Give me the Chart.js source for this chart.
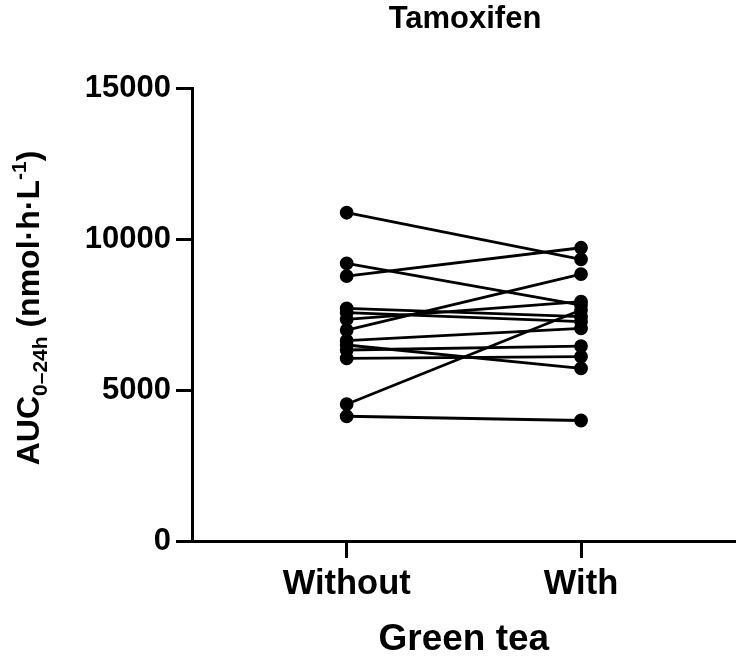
<!DOCTYPE html>
<html>
<head>
<meta charset="utf-8">
<script src="https://cdn.jsdelivr.net/npm/chart.js@4.4.1/dist/chart.umd.min.js"></script>
<style>
  html, body { margin: 0; padding: 0; background: #fff; }
  #wrap { width: 744px; height: 656px; }
</style>
</head>
<body>
<div id="wrap"><canvas id="grafik"></canvas></div>
<script>
// podaci ocitani sa slike (AUC 0-24h, nmol*h/L)
var grupe = ['Without', 'With'];
var bez_caja = [10870, 9195, 8774, 7705, 7560, 7340, 6986, 6633, 6490, 6324, 6050, 4530, 4130];
var sa_cajem = [9327, 7814, 9710, 7427, 7261, 7923, 8840, 7042, 5718, 6456, 6102, 7648, 3990];
var y_podela = [0, 5000, 10000, 15000];

var naslov = 'Tamoxifen';
var x_naslov = 'Green tea';

var FONT = '"Liberation Sans", Arial, Helvetica, sans-serif';

var skupovi = [];
for (var i = 0; i < bez_caja.length; i++) {
  skupovi.push({
    data: [{x: 0, y: bez_caja[i]}, {x: 1, y: sa_cajem[i]}],
    showLine: true,
    borderColor: '#000',
    backgroundColor: '#000',
    borderWidth: 2.8,
    pointRadius: 5.5,
    pointHoverRadius: 5.5
  });
}

// naslov gore i y naslov sa indeksima
var tekstovi = {
  id: 'tekstovi',
  afterDraw: function(chart) {
    var ctx = chart.ctx;
    ctx.save();
    ctx.fillStyle = '#000';
    ctx.textAlign = 'center';
    ctx.textBaseline = 'middle';
    ctx.font = 'bold 31px ' + FONT;
    ctx.fillText(naslov, 465, 19);

    // y naslov, rotiran
    var delovi = [
      {t: 'AUC', s: 32, dy: 0},
      {t: '0\u201324h', s: 21, dy: 8},
      {t: ' (nmol\u00b7h\u00b7L', s: 32, dy: 0},
      {t: '-1', s: 21, dy: -13},
      {t: ')', s: 32, dy: 0}
    ];
    var ukupno = 0;
    delovi.forEach(function(d) {
      ctx.font = 'bold ' + d.s + 'px ' + FONT;
      d.w = ctx.measureText(d.t).width;
      ukupno += d.w;
    });
    ctx.translate(28, 308);
    ctx.rotate(-Math.PI / 2);
    ctx.textAlign = 'left';
    ctx.textBaseline = 'alphabetic';
    var px = -ukupno / 2;
    delovi.forEach(function(d) {
      ctx.font = 'bold ' + d.s + 'px ' + FONT;
      ctx.fillText(d.t, px, 11 + d.dy);
      px += d.w;
    });
    ctx.restore();
  }
};

var ctx = document.getElementById('grafik').getContext('2d');
var grafik = new Chart(ctx, {
  type: 'scatter',
  data: { datasets: skupovi },
  options: {
    responsive: true,
    maintainAspectRatio: false,
    animation: false,
    layout: { padding: { top: 88, right: 2, left: 0, bottom: 0 } },
    plugins: {
      legend: { display: false },
      tooltip: { enabled: false }
    },
    scales: {
      x: {
        type: 'linear',
        min: -0.66,
        max: 1.66,
        afterBuildTicks: function(axis) {
          axis.ticks = [{value: 0}, {value: 1}];
        },
        afterFit: function(axis) { axis.height = 115; },
        ticks: {
          color: '#000',
          padding: 6,
          font: { family: FONT, size: 34.5, weight: 'bold' },
          callback: function(v) { return grupe[v]; }
        },
        grid: {
          drawOnChartArea: false,
          color: '#000',
          tickLength: 17,
          tickWidth: 3
        },
        border: { color: '#000', width: 3 },
        title: {
          display: true,
          text: x_naslov,
          color: '#000',
          padding: { top: 4, bottom: -6 },
          font: { family: FONT, size: 37, weight: 'bold' }
        }
      },
      y: {
        min: 0,
        max: 15000,
        afterBuildTicks: function(axis) {
          axis.ticks = y_podela.map(function(v) { return {value: v}; });
        },
        afterFit: function(axis) { axis.width = 192; },
        ticks: {
          color: '#000',
          padding: 5,
          font: { family: FONT, size: 31, weight: 'bold' },
          callback: function(v) { return String(v); }
        },
        grid: {
          drawOnChartArea: false,
          color: '#000',
          tickLength: 16,
          tickWidth: 3
        },
        border: { color: '#000', width: 3 }
      }
    }
  },
  plugins: [tekstovi]
});
</script>
</body>
</html>
